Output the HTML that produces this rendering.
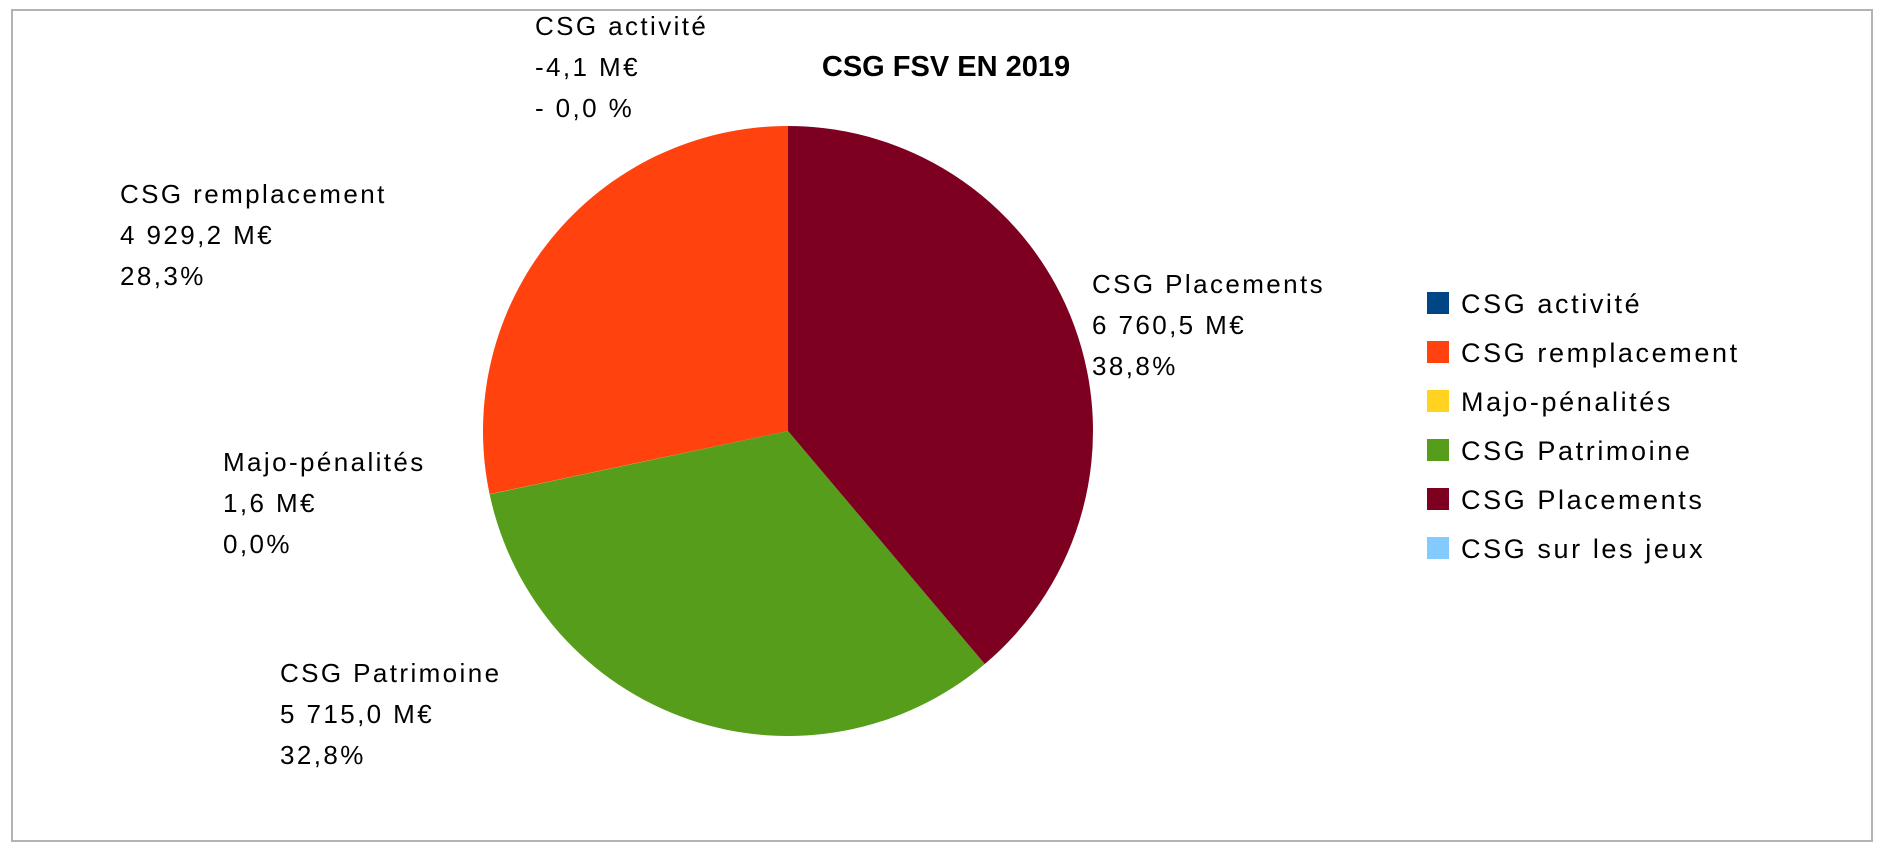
<!DOCTYPE html>
<html><head><meta charset="utf-8"><style>
html,body{margin:0;padding:0;background:#fff;}
svg{display:block;}
text{font-family:"Liberation Sans",sans-serif;fill:#000;}
.lbl{font-size:26px;letter-spacing:2.4px;}
.leg{font-size:27px;letter-spacing:2.6px;}
</style></head><body>
<svg id="chart" width="1877" height="848" viewBox="0 0 1877 848">
<rect x="12" y="10" width="1860" height="831" fill="#fff" stroke="#b3b3b3" stroke-width="2"/>
<text x="946" y="76" text-anchor="middle" font-weight="bold" font-size="29">CSG FSV EN 2019</text>
<g id="slices"></g>
<g id="labels"></g>
<g id="legend"></g>
</svg>
<script>
const categories = ["CSG activité","CSG remplacement","Majo-pénalités","CSG Patrimoine","CSG Placements","CSG sur les jeux"];
const values = [-4.1, 4929.2, 1.6, 5715.0, 6760.5, 0];
const valueLabels = ["-4,1 M€","4 929,2 M€","1,6 M€","5 715,0 M€","6 760,5 M€",""];
const pctLabels = ["- 0,0 %","28,3%","0,0%","32,8%","38,8%",""];
const colors = ["#004586","#ff420e","#ffd320","#579d1c","#7e0021","#83caff"];
const cx=788, cy=431, r=305;
const NS="http://www.w3.org/2000/svg";
const total = values.reduce((a,v)=>a+Math.max(0,v),0);
const slices=document.getElementById('slices');
const labels=document.getElementById('labels');
const legend=document.getElementById('legend');
function pt(a){return [cx - r*Math.sin(a), cy - r*Math.cos(a)];}
let acc=0;
const labelPos={0:[535,26],1:[120,194],2:[223,462],3:[280,673],4:[1092,284]};
values.forEach((v,i)=>{
  const frac=Math.max(0,v)/total;
  const a0=acc*2*Math.PI, a1=(acc+frac)*2*Math.PI;
  acc+=frac;
  if(frac>0){
    const p0=pt(a0), p1=pt(a1);
    const large=(a1-a0)>Math.PI?1:0;
    const path=document.createElementNS(NS,'path');
    path.setAttribute('d',`M${cx},${cy} L${p0[0]},${p0[1]} A${r},${r} 0 ${large} 0 ${p1[0]},${p1[1]} Z`);
    path.setAttribute('fill',colors[i]);
    
    
    slices.appendChild(path);
  }
  if(labelPos[i]){
    const [lx,ly]=labelPos[i];
    const t=document.createElementNS(NS,'text');
    t.setAttribute('class','lbl');
    
    
    [categories[i],valueLabels[i],pctLabels[i]].forEach((s,k)=>{
      const ts=document.createElementNS(NS,'tspan');
      ts.setAttribute('x',lx);ts.setAttribute('y',ly+9+k*41);
      ts.textContent=s;t.appendChild(ts);
    });
    labels.appendChild(t);
  }
  const ry=303+i*49;
  const sq=document.createElementNS(NS,'rect');
  sq.setAttribute('x',1427);sq.setAttribute('y',ry-11);sq.setAttribute('width',22);sq.setAttribute('height',22);
  sq.setAttribute('fill',colors[i]);
  
  
  legend.appendChild(sq);
  const lt=document.createElementNS(NS,'text');
  lt.setAttribute('x',1461);lt.setAttribute('y',ry+10);lt.setAttribute('class','leg');
  lt.textContent=categories[i];
  
  
  legend.appendChild(lt);
});
</script>
</body></html>
